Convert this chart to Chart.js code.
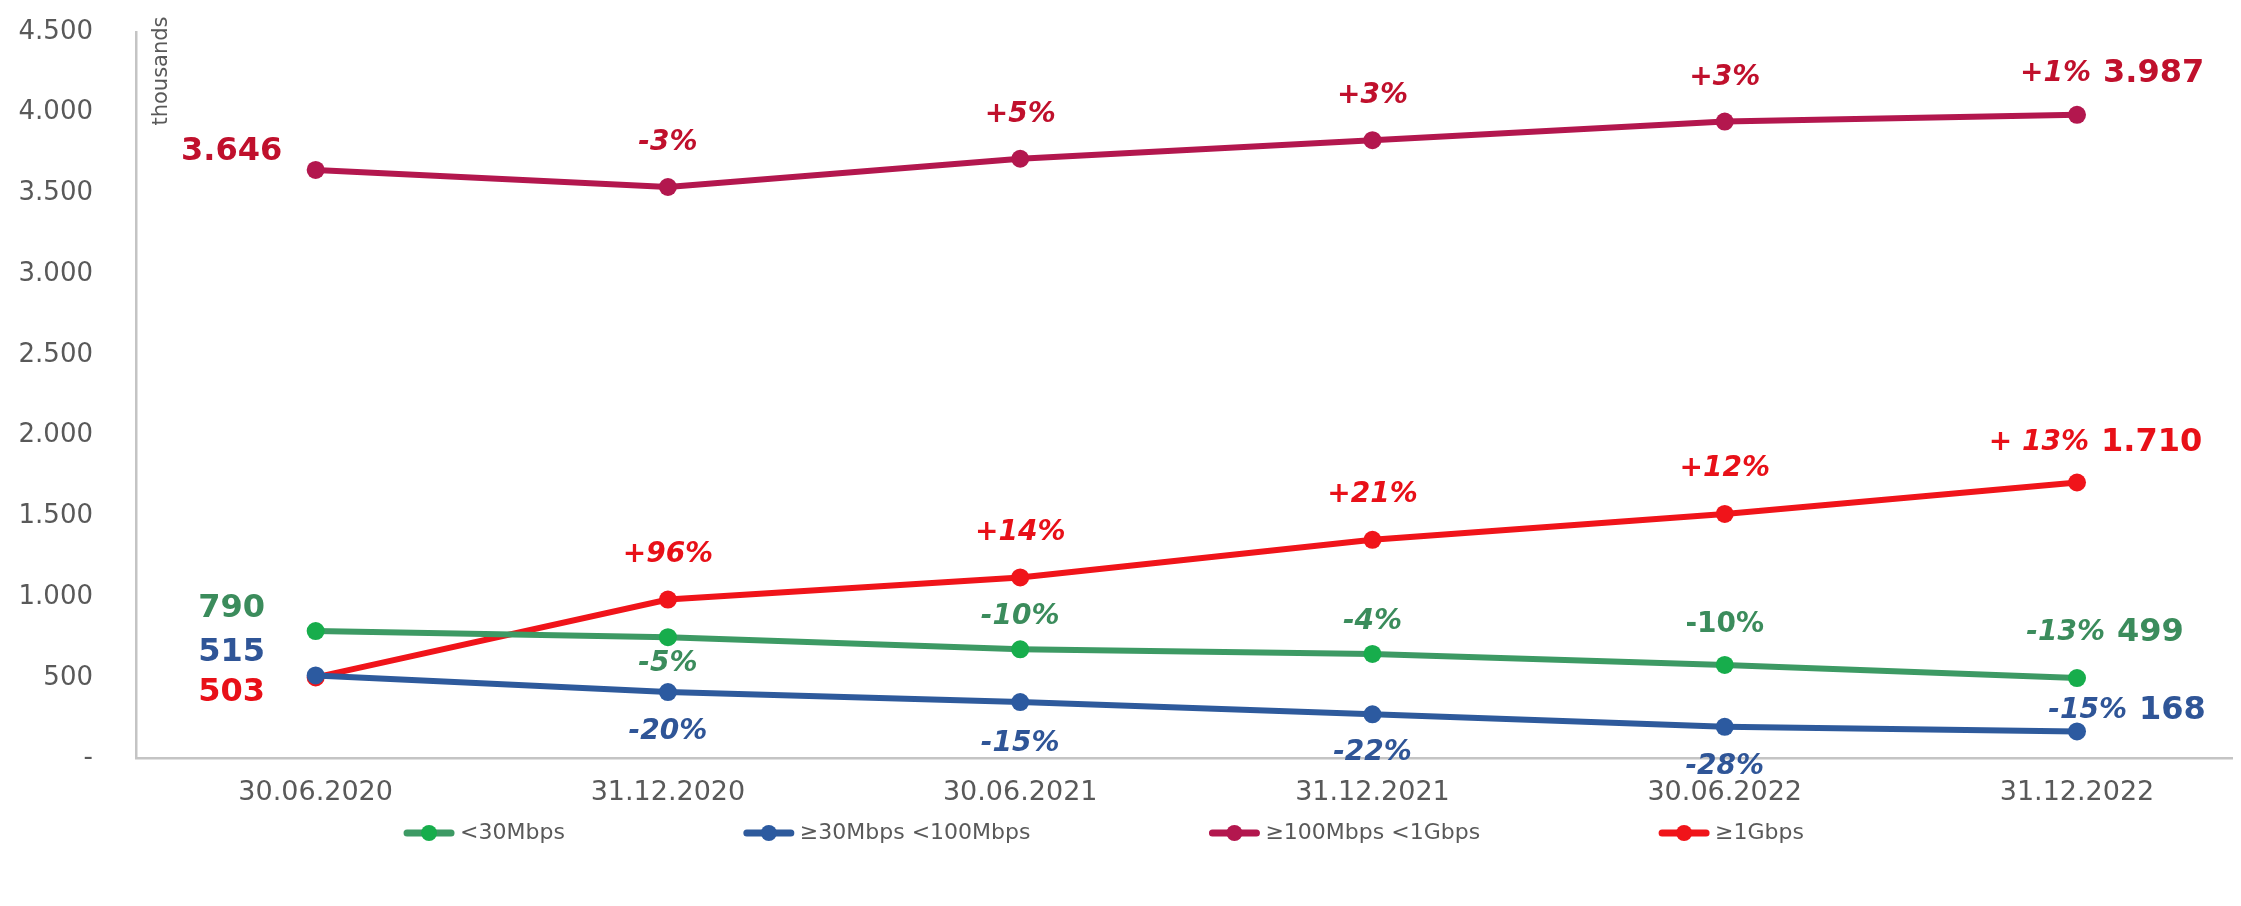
<!DOCTYPE html>
<html>
<head>
<meta charset="utf-8">
<script src="https://cdn.jsdelivr.net/npm/chart.js@4.4.1/dist/chart.umd.min.js"></script>
<style>
  html, body { margin: 0; padding: 0; background: #ffffff; }
  #wrap { width: 2241px; height: 906px; position: relative; }
</style>
</head>
<body>
<div id="wrap"><canvas id="chart"></canvas></div>
<script>
// data (thousands of lines)
const categories = ['30.06.2020', '31.12.2020', '30.06.2021', '31.12.2021', '30.06.2022', '31.12.2022'];
const seriesNames = ['<30Mbps', '≥30Mbps <100Mbps', '≥100Mbps <1Gbps', '≥1Gbps'];

const below30 = [790, 752, 677, 648, 580, 499];
const from30to100 = [515, 412, 350, 274, 197, 168];
const from100to1000 = [3646, 3540, 3715, 3830, 3945, 3987];
const from1000 = [503, 985, 1122, 1355, 1515, 1710];

// change vs. previous half year, as printed on the chart
const below30Change = ['', '-5%', '-10%', '-4%', '-10%', '-13%'];
const from30to100Change = ['', '-20%', '-15%', '-22%', '-28%', '-15%'];
const from100to1000Change = ['', '-3%', '+5%', '+3%', '+3%', '+1%'];
const from1000Change = ['', '+96%', '+14%', '+21%', '+12%', '+ 13%'];

const yTickValues = [0, 500, 1000, 1500, 2000, 2500, 3000, 3500, 4000, 4500];

const FONT = "'DejaVu Sans', Verdana, sans-serif";
const GREY = '#595959';

function fmtThousands(v) {
    return String(v).replace(/\B(?=(\d{3})+(?!\d))/g, '.');
}

// label placement relative to each point (style only)
const labelStyle = [
    { // <30Mbps
        color: '#3b8c5c',
        first: { dx: -84, dy: -22 },
        change: [null, { dy: 27 }, { dy: -33 }, { dy: -32 }, { dy: -40, upright: true }],
        last: { dy: -45, pctRight: 28, valLeft: 40 }
    },
    { // 30-100
        color: '#2f5597',
        first: { dx: -84, dy: -23 },
        change: [null, { dy: 40 }, { dy: 42 }, { dy: 38 }, { dy: 40 }],
        last: { dy: -21, pctRight: 50, valLeft: 62 }
    },
    { // 100-1G
        color: '#c0102c',
        first: { dx: -84, dy: -18 },
        change: [null, { dy: -44 }, { dy: -44 }, { dy: -44 }, { dy: -44 }],
        last: { dy: -41, pctRight: 14, valLeft: 26 }
    },
    { // >=1G
        color: '#e81018',
        first: { dx: -84, dy: 15 },
        change: [null, { dy: -45 }, { dy: -45 }, { dy: -45 }, { dy: -45 }],
        last: { dy: -40, pctRight: 12, valLeft: 24 }
    }
];

const changeLabels = [below30Change, from30to100Change, from100to1000Change, from1000Change];

const dataLabels = {
    id: 'dataLabels',
    afterDatasetsDraw(chart) {
        const ctx = chart.ctx;
        const valueFont = 'bold 32px ' + FONT;
        const pctFont = 'italic bold 28px ' + FONT;
        const pctUpright = 'bold 28px ' + FONT;
        chart.data.datasets.forEach((ds, d) => {
            const meta = chart.getDatasetMeta(d);
            const st = labelStyle[d];
            const n = meta.data.length;
            meta.data.forEach((pt, i) => {
                ctx.save();
                ctx.fillStyle = st.color;
                ctx.textBaseline = 'middle';
                const value = ds.data[i].y;
                if (i === 0) {
                    ctx.font = valueFont;
                    ctx.textAlign = 'center';
                    ctx.fillText(fmtThousands(value), pt.x + st.first.dx, pt.y + st.first.dy);
                } else if (i === n - 1) {
                    ctx.font = pctFont;
                    ctx.textAlign = 'right';
                    ctx.fillText(changeLabels[d][i], pt.x + st.last.pctRight, pt.y + st.last.dy);
                    ctx.font = valueFont;
                    ctx.textAlign = 'left';
                    ctx.fillText(fmtThousands(value), pt.x + st.last.valLeft, pt.y + st.last.dy);
                } else {
                    const c = st.change[i];
                    ctx.font = c.upright ? pctUpright : pctFont;
                    ctx.textAlign = 'center';
                    ctx.fillText(changeLabels[d][i], pt.x + (c.dx || 0), pt.y + c.dy);
                }
                ctx.restore();
            });
        });
    }
};

// small "thousands" note inside the plot, next to the y axis
const unitNote = {
    id: 'unitNote',
    afterDraw(chart) {
        const ctx = chart.ctx;
        const a = chart.chartArea;
        ctx.save();
        ctx.translate(a.left + 26, a.top + 39);
        ctx.rotate(-Math.PI / 2);
        ctx.font = '21px ' + FONT;
        ctx.fillStyle = GREY;
        ctx.textAlign = 'center';
        ctx.textBaseline = 'middle';
        ctx.fillText('thousands', 0, 0);
        ctx.restore();
    }
};

// legend with line + dot markers, spaced like the original
const lineLegend = {
    id: 'lineLegend',
    afterDraw(chart, args, opts) {
        const ctx = chart.ctx;
        ctx.save();
        ctx.font = opts.fontSize + 'px ' + FONT;
        const items = chart.data.datasets.map(ds => ({
            text: ds.label,
            line: ds.borderColor,
            dot: ds.pointBackgroundColor,
            w: opts.markerWidth + opts.textGap + ctx.measureText(ds.label).width
        }));
        const total = items.reduce((s, it) => s + it.w, 0) + opts.itemGap * (items.length - 1);
        let x = opts.centerX - total / 2;
        const y = opts.y;
        items.forEach(it => {
            ctx.strokeStyle = it.line;
            ctx.lineWidth = 7;
            ctx.lineCap = 'round';
            ctx.beginPath();
            ctx.moveTo(x + 3, y);
            ctx.lineTo(x + opts.markerWidth - 3, y);
            ctx.stroke();
            ctx.fillStyle = it.dot;
            ctx.beginPath();
            ctx.arc(x + opts.markerWidth / 2, y, 8, 0, Math.PI * 2);
            ctx.fill();
            ctx.fillStyle = GREY;
            ctx.textAlign = 'left';
            ctx.textBaseline = 'middle';
            ctx.fillText(it.text, x + opts.markerWidth + opts.textGap, y);
            x += it.w + opts.itemGap;
        });
        ctx.restore();
    }
};

function makeSeries(label, values, lineColor, dotColor) {
    return {
        label: label,
        data: values.map((v, i) => ({ x: i, y: v })),
        borderColor: lineColor,
        backgroundColor: lineColor,
        pointBackgroundColor: dotColor,
        pointBorderWidth: 0,
        pointRadius: 9,
        borderWidth: 6,
        tension: 0
    };
}

const ctx = document.getElementById('chart').getContext('2d');
new Chart(ctx, {
    type: 'line',
    data: {
        datasets: [
            makeSeries(seriesNames[0], below30, '#3d9a64', '#17ad4c'),
            makeSeries(seriesNames[1], from30to100, '#2e5a9c', '#2c5aa0'),
            makeSeries(seriesNames[2], from100to1000, '#b3174e', '#b3174e'),
            makeSeries(seriesNames[3], from1000, '#f0141a', '#f0141a')
        ]
    },
    options: {
        responsive: true,
        maintainAspectRatio: false,
        animation: false,
        layout: { padding: { top: 32, right: 0, bottom: 79, left: 0 } },
        plugins: {
            legend: { display: false },
            tooltip: { enabled: false },
            lineLegend: { fontSize: 22, markerWidth: 50, textGap: 6, itemGap: 179, centerX: 1104, y: 833 }
        },
        scales: {
            x: {
                type: 'linear',
                min: -0.51,
                max: 5.44,
                afterBuildTicks: axis => { axis.ticks = categories.map((c, i) => ({ value: i })); },
                grid: { display: false, drawTicks: false },
                border: { color: '#c4c4c4', width: 2.5 },
                ticks: {
                    padding: 18,
                    color: GREY,
                    font: { family: FONT, size: 27 },
                    autoSkip: false,
                    maxRotation: 0,
                    callback: v => categories[v] ?? ''
                }
            },
            y: {
                min: 0,
                max: 4500,
                afterBuildTicks: axis => { axis.ticks = yTickValues.map(v => ({ value: v })); },
                afterFit: scale => {
                    scale.width = 136;
                    scale.paddingTop = 0;
                    scale.paddingBottom = 0;
                },
                grid: { display: false, drawTicks: false },
                border: { color: '#c4c4c4', width: 2.5 },
                ticks: {
                    padding: 43,
                    color: GREY,
                    font: { family: FONT, size: 26 },
                    callback: v => v === 0 ? '-' : fmtThousands(v)
                }
            }
        }
    },
    plugins: [dataLabels, unitNote, lineLegend]
});
</script>
</body>
</html>
